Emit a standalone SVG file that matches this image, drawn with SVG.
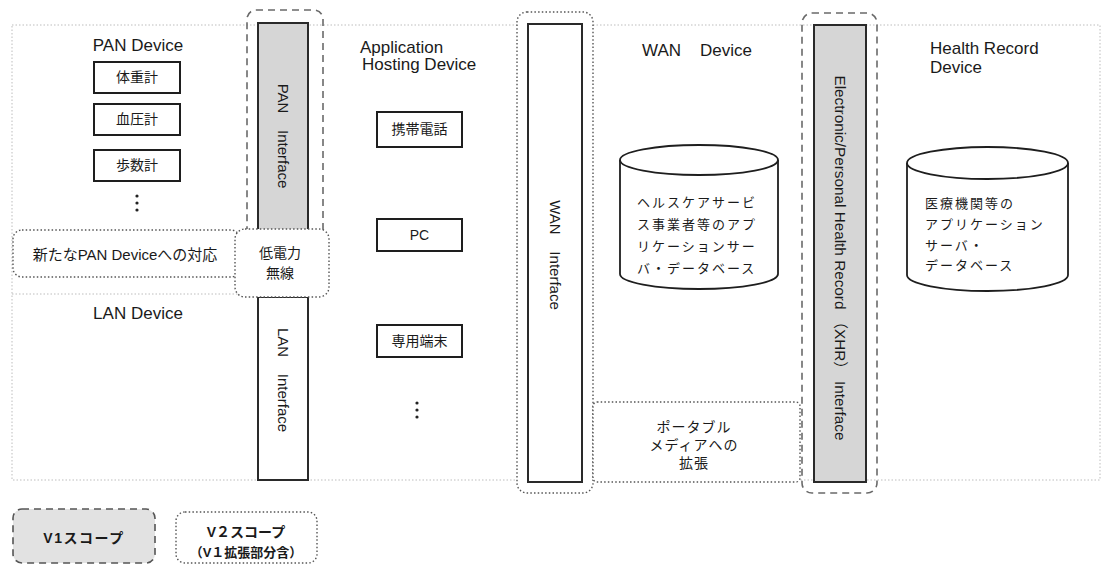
<svg xmlns="http://www.w3.org/2000/svg" width="1102" height="566" viewBox="0 0 1102 566">
<style>
text{font-family:"Liberation Sans","Noto Sans CJK JP",sans-serif;fill:#1a1a1a}
.title{font-size:17px}
.lbl{font-size:14px;text-anchor:middle}
.db{font-size:13px;letter-spacing:2px}
.rot{font-size:15px;text-anchor:middle;dominant-baseline:central}
.frame{fill:none;stroke:#bdbdbd;stroke-width:1;stroke-dasharray:1.5 2}
.box{fill:#fff;stroke:#1e1e1e;stroke-width:2}
.bar{stroke:#2a2a2a;stroke-width:2}
.v1{fill:none;stroke:#6a6a6a;stroke-width:1.6;stroke-dasharray:7 5}
.v2{fill:#fff;stroke:#555;stroke-width:1.4;stroke-dasharray:1.5 2.2}
.cyl{fill:#fff;stroke:#1e1e1e;stroke-width:1.8}
.dot{fill:#222}
</style>

<g id="frame">
<rect class="frame" x="12" y="25" width="1088" height="455"/>
<line class="frame" x1="12" y1="294" x2="258" y2="294"/>
</g>

<g id="pan-device">
<text class="title" x="138" y="51" text-anchor="middle">PAN Device</text>
<rect class="box" x="94" y="62" width="86" height="31"/>
<text class="lbl" x="137" y="82">体重計</text>
<rect class="box" x="94" y="104" width="86" height="31"/>
<text class="lbl" x="137" y="124">血圧計</text>
<rect class="box" x="94" y="150" width="86" height="31"/>
<text class="lbl" x="137" y="170">歩数計</text>
<circle class="dot" cx="137" cy="196" r="1.6"/>
<circle class="dot" cx="137" cy="203" r="1.6"/>
<circle class="dot" cx="137" cy="210" r="1.6"/>
</g>

<g id="lan-device">
<text class="title" x="138" y="319" text-anchor="middle">LAN Device</text>
</g>

<g id="pan-interface">
<rect class="v1" x="247" y="10" width="76" height="232" rx="9"/>
<rect class="bar" x="258" y="23" width="50" height="210" fill="#d6d6d6"/>
<text class="rot" transform="translate(283,136) rotate(90)" xml:space="preserve">PAN    Interface</text>
</g>

<g id="lan-interface">
<rect class="bar" x="258" y="297" width="50" height="183" fill="#fff"/>
<text class="rot" transform="translate(283,380) rotate(90)" xml:space="preserve">LAN    Interface</text>
</g>

<g id="new-pan">
<rect class="v2" x="13" y="230" width="227" height="47" rx="9"/>
<text x="125" y="260" font-size="15" text-anchor="middle">新たなPAN Deviceへの対応</text>
</g>

<g id="low-power">
<rect class="v2" x="235" y="229" width="94" height="68" rx="10"/>
<text class="lbl" x="280" y="258">低電力</text>
<text class="lbl" x="280" y="278">無線</text>
</g>

<g id="app-hosting">
<text class="title" x="360" y="53">Application</text>
<text class="title" x="362" y="70">Hosting Device</text>
<rect class="box" x="377" y="112" width="85" height="35"/>
<text class="lbl" x="419.5" y="134">携帯電話</text>
<rect class="box" x="377" y="219" width="85" height="32"/>
<text class="lbl" x="419.5" y="240">PC</text>
<rect class="box" x="377" y="325" width="85" height="32"/>
<text class="lbl" x="419.5" y="346">専用端末</text>
<circle class="dot" cx="417" cy="403" r="1.6"/>
<circle class="dot" cx="417" cy="410" r="1.6"/>
<circle class="dot" cx="417" cy="417" r="1.6"/>
</g>

<g id="wan-interface">
<rect class="v2" x="517" y="12" width="76" height="481" rx="10" fill="none"/>
<rect class="bar" x="528" y="24" width="54" height="458" fill="#fff"/>
<text class="rot" transform="translate(555,255) rotate(90)" xml:space="preserve">WAN    Interface</text>
</g>

<g id="wan-device">
<text class="title" x="642" y="56" xml:space="preserve">WAN    Device</text>
<path class="cyl" d="M620,160 A79,15 0 0 1 778,160 L778,274 A79,15 0 0 1 620,274 Z"/>
<path class="cyl" d="M620,160 A79,15 0 0 0 778,160" fill="none"/>
<text class="db" x="637" y="207">ヘルスケアサービ</text>
<text class="db" x="637" y="229">ス事業者等のアプ</text>
<text class="db" x="637" y="251">リケーションサー</text>
<text class="db" x="637" y="273">バ・データベース</text>
</g>

<g id="portable-media">
<rect class="v2" x="593" y="402" width="207" height="80" rx="4" fill="none"/>
<text class="lbl" x="694" y="432" letter-spacing="1">ポータブル</text>
<text class="lbl" x="694" y="450" letter-spacing="1">メディアへの</text>
<text class="lbl" x="694" y="468" letter-spacing="1">拡張</text>
</g>

<g id="xhr-interface">
<rect class="v1" x="802" y="13" width="75" height="480" rx="10"/>
<rect class="bar" x="814" y="25" width="52" height="457" fill="#d6d6d6"/>
<text class="rot" transform="translate(840,258) rotate(90)" textLength="365" lengthAdjust="spacingAndGlyphs">Electronic/Personal Health Record （XHR） Interface</text>
</g>

<g id="health-record">
<text class="title" x="930" y="54">Health Record</text>
<text class="title" x="930" y="73">Device</text>
<path class="cyl" d="M907,163 A80.5,16 0 0 1 1068,163 L1068,275 A80.5,16 0 0 1 907,275 Z"/>
<path class="cyl" d="M907,163 A80.5,16 0 0 0 1068,163" fill="none"/>
<text class="db" x="925" y="208">医療機関等の</text>
<text class="db" x="925" y="229">アプリケーション</text>
<text class="db" x="925" y="250">サーバ・</text>
<text class="db" x="925" y="270">データベース</text>
</g>

<g id="legend-v1">
<rect x="13" y="509" width="142" height="54" rx="9" fill="#e2e2e2" stroke="#555" stroke-width="1.6" stroke-dasharray="7 5"/>
<text x="84" y="543" font-size="14" font-weight="bold" text-anchor="middle" letter-spacing="1.5">V1スコープ</text>
</g>

<g id="legend-v2">
<rect class="v2" x="176" y="512" width="141" height="51" rx="9" fill="#f3f3f3"/>
<text x="246" y="537" font-size="14" font-weight="bold" text-anchor="middle">V２スコープ</text>
<text x="246" y="557" font-size="13" font-weight="bold" text-anchor="middle">（V１拡張部分含）</text>
</g>

<g id="connectors"></g>
</svg>
